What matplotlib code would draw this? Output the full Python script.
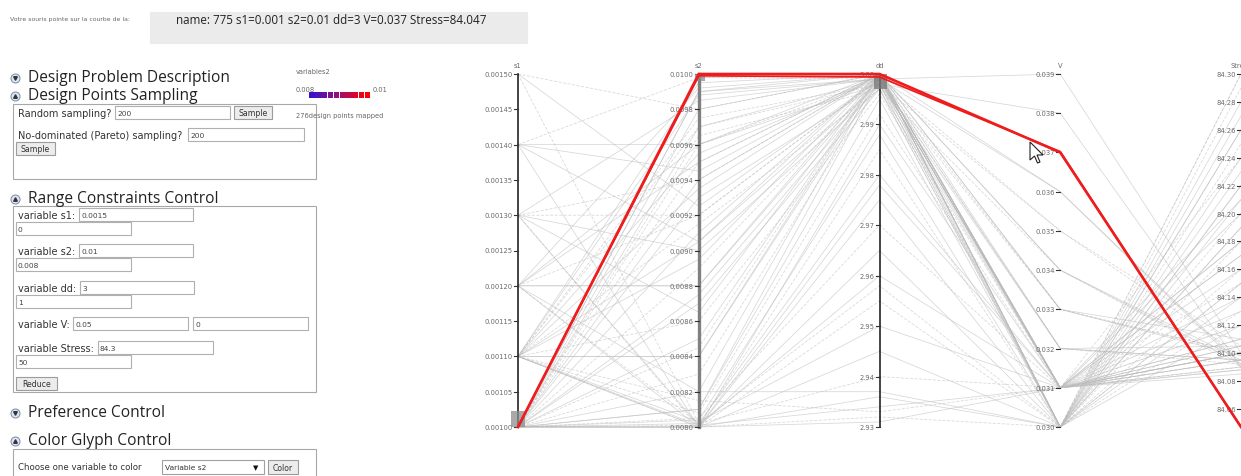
import matplotlib
matplotlib.use("Agg")
import matplotlib.pyplot as plt
from matplotlib.patches import Rectangle, Polygon
from matplotlib.colors import LinearSegmentedColormap

W, H = 1241, 477

# ---- parallel coordinates data ----
axis_names = ["s1", "s2", "dd", "V", "Stress"]
s1_range = (0.00100, 0.00150)
s2_range = (0.0080, 0.0100)
dd_range = (2.93, 3.00)
V_range = (0.030, 0.039)
stress_range = (84.047, 84.30)

s1_ticks = [0.00100, 0.00105, 0.00110, 0.00115, 0.00120, 0.00125,
            0.00130, 0.00135, 0.00140, 0.00145, 0.00150]
s2_ticks = [0.0080, 0.0082, 0.0084, 0.0086, 0.0088, 0.0090,
            0.0092, 0.0094, 0.0096, 0.0098, 0.0100]
dd_ticks = [2.93, 2.94, 2.95, 2.96, 2.97, 2.98, 2.99, 3.00]
V_ticks = [0.030, 0.031, 0.032, 0.033, 0.034, 0.035, 0.036, 0.037, 0.038, 0.039]
stress_ticks = [84.06, 84.08, 84.10, 84.12, 84.14, 84.16, 84.18,
                84.20, 84.22, 84.24, 84.26, 84.28, 84.30]

# design points (grey lines)
s1 = [0.00100, 0.00100, 0.00100, 0.00100, 0.00100, 0.00100, 0.00100, 0.00100, 0.00100, 0.00100,
      0.00110, 0.00110, 0.00110, 0.00110, 0.00110, 0.00110, 0.00110, 0.00110, 0.00120, 0.00120,
      0.00120, 0.00120, 0.00130, 0.00130, 0.00130, 0.00130, 0.00140, 0.00140, 0.00140, 0.00150,
      0.00150, 0.00100, 0.00100, 0.00100, 0.00100, 0.00100, 0.00110, 0.00110, 0.00100, 0.00120,
      0.00100, 0.00100, 0.00100, 0.00100, 0.00100, 0.00100, 0.00110, 0.00110, 0.00110, 0.00110,
      0.00120, 0.00120, 0.00130, 0.00130, 0.00100, 0.00100, 0.00110, 0.00100, 0.00140, 0.00150,
      0.00120, 0.00110, 0.00130, 0.00140, 0.00100, 0.00110, 0.00100, 0.00100, 0.00110, 0.00120]
s2 = [0.00990, 0.00970, 0.00950, 0.00930, 0.00910, 0.00890, 0.00870, 0.00850, 0.00830, 0.00810,
      0.00995, 0.00975, 0.00955, 0.00935, 0.00915, 0.00895, 0.00840, 0.00860, 0.00880, 0.00960,
      0.00920, 0.00820, 0.00985, 0.00940, 0.00900, 0.00865, 0.00998, 0.00945, 0.00905, 0.00980,
      0.00925, 0.00998, 0.00960, 0.00940, 0.00875, 0.00845, 0.00988, 0.00905, 0.00965, 0.00992,
      0.00800, 0.00801, 0.00802, 0.00800, 0.00805, 0.00800, 0.00801, 0.00800, 0.00803, 0.00800,
      0.00802, 0.00800, 0.00801, 0.00800, 0.00800, 0.00810, 0.00808, 0.00804, 0.00800, 0.00802,
      0.00880, 0.00840, 0.00920, 0.00960, 0.00820, 0.00815, 0.00990, 0.00980, 0.00970, 0.00950]
dd = [3.000, 2.999, 3.000, 2.998, 3.000, 2.999, 2.997, 3.000, 2.998, 2.999,
      3.000, 2.998, 2.999, 3.000, 2.997, 3.000, 2.999, 2.996, 3.000, 2.998,
      2.999, 3.000, 2.999, 3.000, 2.997, 3.000, 2.999, 3.000, 2.998, 3.000,
      2.999, 3.000, 2.999, 3.000, 2.998, 3.000, 2.999, 3.000, 2.997, 3.000,
      2.990, 2.985, 2.980, 2.975, 2.970, 2.965, 2.960, 2.955, 2.950, 2.945,
      2.940, 2.936, 2.934, 2.932, 2.931, 2.995, 2.992, 2.988, 2.978, 2.958,
      2.999, 3.000, 2.999, 3.000, 2.937, 2.933, 2.999, 3.000, 2.998, 3.000]
V = [0.031, 0.031, 0.030, 0.032, 0.031, 0.033, 0.030, 0.031, 0.030, 0.031,
     0.034, 0.035, 0.036, 0.031, 0.030, 0.031, 0.032, 0.031, 0.033, 0.030,
     0.031, 0.030, 0.031, 0.030, 0.031, 0.034, 0.031, 0.030, 0.038, 0.031,
     0.030, 0.036, 0.035, 0.033, 0.031, 0.030, 0.039, 0.031, 0.034, 0.032,
     0.031, 0.030, 0.031, 0.030, 0.031, 0.030, 0.031, 0.030, 0.031, 0.030,
     0.031, 0.030, 0.031, 0.030, 0.031, 0.030, 0.031, 0.030, 0.031, 0.030,
     0.031, 0.030, 0.032, 0.031, 0.030, 0.031, 0.031, 0.030, 0.033, 0.031]
stress = [84.095, 84.100, 84.180, 84.105, 84.090, 84.100, 84.240, 84.110, 84.150, 84.085,
          84.092, 84.098, 84.090, 84.170, 84.300, 84.105, 84.095, 84.090, 84.110, 84.140,
          84.100, 84.220, 84.088, 84.160, 84.100, 84.095, 84.120, 84.260, 84.090, 84.100,
          84.190, 84.092, 84.105, 84.098, 84.210, 84.130, 84.100, 84.088, 84.090, 84.095,
          84.140, 84.200, 84.160, 84.280, 84.120, 84.230, 84.180, 84.250, 84.130, 84.270,
          84.150, 84.210, 84.170, 84.290, 84.110, 84.190, 84.240, 84.260, 84.200, 84.300,
          84.100, 84.150, 84.092, 84.105, 84.120, 84.095, 84.180, 84.220, 84.100, 84.095]

# selected (brushed) points -> red
sel_s1 = [0.00100, 0.00100]
sel_s2 = [0.01000, 0.00999]
sel_dd = [3.000, 2.9994]
sel_V = [0.0370, 0.03702]
sel_stress = [84.047, 84.047]

# legend of the colour glyph
legend_vals = [0.0080, 0.0082, 0.0084, 0.0086, 0.0088, 0.0090, 0.0092, 0.0094, 0.0096, 0.0098]

ranges = [s1_range, s2_range, dd_range, V_range, stress_range]
ticks = [s1_ticks, s2_ticks, dd_ticks, V_ticks, stress_ticks]
fmts = ["%.5f", "%.4f", "%.2f", "%.3f", "%.2f"]


def norm(v, r):
    return (v - r[0]) / (r[1] - r[0])


fig = plt.figure(figsize=(W / 100, H / 100), dpi=100)
fig.patch.set_facecolor("white")

# ---------- left UI panel (pixel coordinates) ----------
ui = fig.add_axes([0, 0, 1, 1], zorder=0)
ui.set_xlim(0, W)
ui.set_ylim(H, 0)
ui.axis("off")

HEAD = dict(family="Open Sans", fontsize=11.2, color="#222222")
SMALL = 7.0


def box(x0, y0, x1, y1, fc="white", ec="#a8a8a8", lw=0.8):
    ui.add_patch(Rectangle((x0, y0), x1 - x0, y1 - y0, fc=fc, ec=ec, lw=lw))


def txt(x, y, s, size=SMALL, color="#333333", **kw):
    ui.text(x, y, s, fontsize=size, color=color, va="center", **kw)


def field(x0, y0, x1, y1, val):
    box(x0, y0, x1, y1, ec="#b0b0b0")
    txt(x0 + 2, (y0 + y1) / 2 + 0.5, val, size=5.4, color="#444444")


def button(x0, y0, x1, y1, s):
    box(x0, y0, x1, y1, fc="#ececec", ec="#9c9c9c")
    txt((x0 + x1) / 2, (y0 + y1) / 2 + 0.5, s, size=5.6, color="#333333", ha="center")


def header(y, s, up=False):
    ui.plot(15, y + 1, "o", ms=6.5, mfc="#dfe6f0", mec="#7a8aa0", mew=0.7)
    ui.plot(15, y + 1, "^" if up else "v", ms=2.6, color="#334")
    ui.text(28, y, s, va="center", **HEAD)


txt(10, 20, "Votre souris pointe sur la courbe de la:", size=4.4, color="#666666")
box(150, 13, 527, 44, fc="#ebebeb", ec="#ebebeb")
txt(176, 20, "name: 775 s1=0.001 s2=0.01 dd=3 V=0.037 Stress=84.047",
    size=8.4, color="#222222", family="Open Sans")

header(78, "Design Problem Description")
header(96, "Design Points Sampling", up=True)
box(13, 105, 316, 180)
txt(18, 114, "Random sampling?")
field(115, 107, 230, 120, "200")
button(234, 107, 272, 120, "Sample")
txt(18, 136, "No-dominated (Pareto) sampling?")
field(188, 129, 304, 142, "200")
button(16, 143, 55, 156, "Sample")

header(199, "Range Constraints Control", up=True)
box(13, 207, 316, 393)
txt(18, 216, "variable s1:")
field(79, 209, 193, 222, "0.0015")
field(16, 223, 131, 236, "0")
txt(18, 252, "variable s2:")
field(79, 245, 193, 258, "0.01")
field(16, 259, 131, 272, "0.008")
txt(18, 289, "variable dd:")
field(80, 282, 194, 295, "3")
field(16, 296, 131, 309, "1")
txt(18, 325, "variable V:")
field(73, 318, 188, 331, "0.05")
field(193, 318, 308, 331, "0")
txt(18, 349, "variable Stress:")
field(98, 342, 213, 355, "84.3")
field(16, 356, 131, 369, "50")
button(16, 378, 57, 391, "Reduce")

header(413, "Preference Control")
header(441, "Color Glyph Control", up=True)
box(13, 450, 316, 480)
txt(18, 468, "Choose one variable to color", size=6.2)
box(162, 461, 264, 475, ec="#a0a0a0")
txt(165, 468, "Variable s2", size=5.4)
txt(253, 468, "\u25bc", size=5.0, color="#111111")
button(268, 461, 298, 475, "Color")

# colour legend
txt(296, 72, "variables2", size=4.8, color="#666666")
txt(296, 90, "0.008", size=4.8, color="#666666")
txt(373, 90, "0.01", size=4.8, color="#666666")
cmap = LinearSegmentedColormap.from_list("s2", ["#3a12c8", "#a0106e", "#ff0000"])
sq = (371 - 309) / len(legend_vals)
for i, v in enumerate(legend_vals):
    ui.add_patch(Rectangle((309 + i * sq, 93), sq - 0.6, 6,
                           fc=cmap(norm(v, (0.0080, 0.0098))), ec="none"))
txt(296, 116, "276design points mapped", size=4.8, color="#666666")

# ---------- parallel coordinates ----------
x_left, x_right, y_top, y_bot = 518, 1241, 75, 428
ax = fig.add_axes([x_left / W, 1 - y_bot / H, (x_right - x_left) / W, (y_bot - y_top) / H],
                  zorder=1)
ax.set_xlim(0, 4)
ax.set_ylim(0, 1)
ax.axis("off")
ax.patch.set_alpha(0)
px = 4 / (x_right - x_left)      # one pixel in x data units
py = 1 / (y_bot - y_top)         # one pixel in y data units

cols = [s1, s2, dd, V, stress]
for i in range(len(s1)):
    ys = [norm(c[i], r) for c, r in zip(cols, ranges)]
    ax.plot(range(5), ys, color="#bcbcbc", lw=0.55, alpha=0.6,
            ls=(0, (4, 2)) if i % 3 == 2 else "-", clip_on=False)

# axes, ticks and labels
axis_style = [("#111111", 1.1), ("#808080", 2.4), ("#111111", 1.1), (None, 0), (None, 0)]
for j, (name, r, tk, fm) in enumerate(zip(axis_names, ranges, ticks, fmts)):
    col, lw = axis_style[j]
    if col:
        ax.plot([j, j], [0, 1], color=col, lw=lw, clip_on=False, zorder=3)
    for t in tk:
        y = norm(t, r)
        ax.plot([j - 4 * px, j], [y, y], color="#333333", lw=0.8, clip_on=False, zorder=3)
        ax.text(j - 5 * px, y, fm % t, ha="right", va="center", fontsize=4.9,
                color="#6a6a6a", zorder=3)
    ax.text(j, 1 + 9 * py, name, ha="center", va="center", fontsize=4.9, color="#6a6a6a")

# brushes
ax.add_patch(Rectangle((-7 * px, 0), 14 * px, 16 * py, fc="#8c8c8c", alpha=0.75,
                       ec="none", zorder=4, clip_on=False))
ax.add_patch(Rectangle((1 - 4 * px, 1 - 7 * py), 10 * px, 7 * py, fc="#8c8c8c", alpha=0.75,
                       ec="none", zorder=4, clip_on=False))
ax.add_patch(Rectangle((2 - 6 * px, 1 - 15 * py), 13 * px, 15 * py, fc="#7a7a7a", alpha=0.8,
                       ec="none", zorder=4, clip_on=False))

sel_cols = [sel_s1, sel_s2, sel_dd, sel_V, sel_stress]
for i in range(len(sel_s1)):
    ys = [norm(c[i], r) for c, r in zip(sel_cols, ranges)]
    ax.plot(range(5), ys, color="#ee1c1c", lw=1.9 if i == 0 else 1.3,
            clip_on=False, zorder=5, solid_joinstyle="miter")

# mouse cursor
top = fig.add_axes([0, 0, 1, 1], zorder=6)
top.set_xlim(0, W)
top.set_ylim(H, 0)
top.axis("off")
top.patch.set_alpha(0)
cx, cy = 1030, 143
arrow = [(0, 0), (0, 18), (4.5, 14), (7.5, 21), (10, 20), (7, 13), (13, 13)]
top.add_patch(Polygon([(cx + a, cy + b) for a, b in arrow], closed=True,
                      fc="white", ec="#222222", lw=0.8))

fig.savefig("out.png", dpi=100)
